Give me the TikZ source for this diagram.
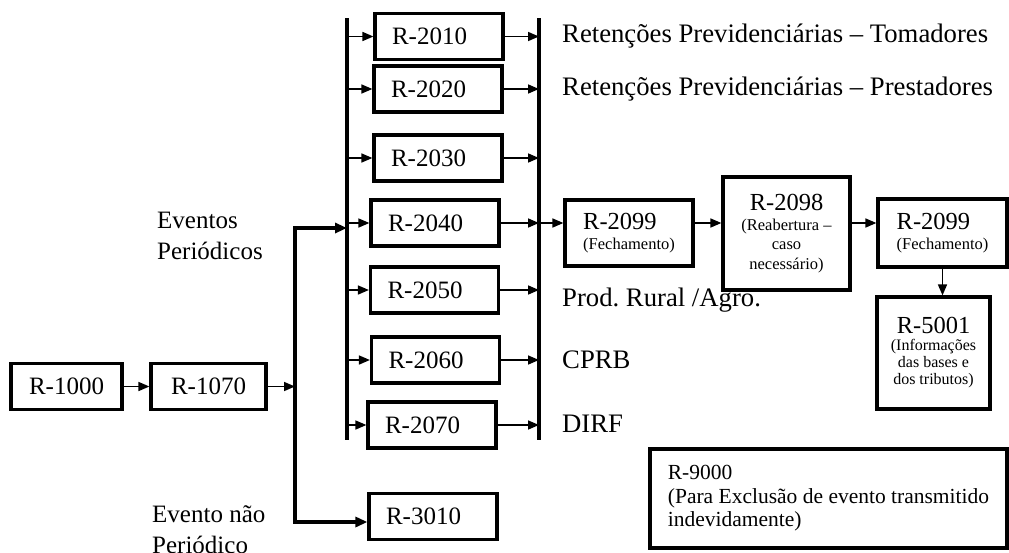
\documentclass[tikz,border=0pt]{standalone}
\usepackage{fontspec}
\setmainfont{Liberation Serif}
\usetikzlibrary{arrows.meta,calc}
\frenchspacing
\newcommand{\BoxFont}{\fontsize{25}{30}\selectfont}
\newcommand{\LblFont}{\fontsize{26.7}{32}\selectfont}
\newcommand{\HeadFont}{\fontsize{24.5}{26}\selectfont}
\newcommand{\NoteFont}{\fontsize{16.5}{19.5}\selectfont}

\begin{document}
\begin{tikzpicture}[x=1pt,y=-1pt,
  evbox/.style={draw,line width=3.2pt,minimum height=46pt,inner sep=0pt,font=\BoxFont},
  midbox/.style={evbox,text width=94pt,inner xsep=17pt,align=left},
  flowbox/.style={draw,line width=3.2pt,inner sep=0pt,align=left,font=\NoteFont},
  bus/.style={line width=3.5pt},
  arr/.style={line width=1.6pt,-{Triangle[length=11pt,width=9pt]}},
  connarr/.style={line width=3.2pt,{Triangle[length=12pt,width=10pt]}-{Triangle[length=12pt,width=10pt]}},
  lbl/.style={anchor=west,inner sep=0pt,font=\LblFont}]
\useasboundingbox (0,0) rectangle (1009,552);

\node[evbox,minimum width=111pt] (r1000) at (66.5,386.5) {R-1000};
\node[evbox,minimum width=115pt] (r1070) at (208.5,386.5) {R-1070};

\node[midbox] (r2010) at (439,36.5) {R-2010};
\node[midbox] (r2020) at (438,89) {R-2020};
\node[midbox] (r2030) at (438,158) {R-2030};
\node[midbox] (r2040) at (435,223) {R-2040};
\node[midbox] (r2050) at (434.5,290) {R-2050};
\node[midbox] (r2060) at (435.5,360) {R-2060};
\node[midbox] (r2070) at (432,425) {R-2070};
\node[midbox] (r3010) at (433,516.5) {R-3010};

\coordinate (lbtop) at (347,18);
\coordinate (lbbot) at (347,440);
\coordinate (rbtop) at (539,18);
\coordinate (rbbot) at (539,440);
\coordinate (ctop) at (295,228);
\coordinate (cbot) at (295,522);

\draw[bus] (lbtop) -- (lbbot);
\draw[bus] (rbtop) -- (rbbot);

\draw[arr] (r1000) -- (r1070);
\draw[arr] (r1070.east) -- (r1070 -| ctop);
\draw[connarr] (ctop -| lbtop) -- (ctop) -- (cbot) -- (cbot -| r3010.west);

\draw[arr] (r2010 -| lbtop) -- (r2010.west);
\draw[arr] (r2020 -| lbtop) -- (r2020.west);
\draw[arr] (r2030 -| lbtop) -- (r2030.west);
\draw[arr] (r2040 -| lbtop) -- (r2040.west);
\draw[arr] (r2050 -| lbtop) -- (r2050.west);
\draw[arr] (r2060 -| lbtop) -- (r2060.west);
\draw[arr] (r2070 -| lbtop) -- (r2070.west);

\draw[arr] (r2010.east) -- (r2010 -| rbtop);
\draw[arr] (r2020.east) -- (r2020 -| rbtop);
\draw[arr] (r2030.east) -- (r2030 -| rbtop);
\draw[arr] (r2040.east) -- (r2040 -| rbtop);
\draw[arr] (r2050.east) -- (r2050 -| rbtop);
\draw[arr] (r2060.east) -- (r2060 -| rbtop);
\draw[arr] (r2070.east) -- (r2070 -| rbtop);

\node[anchor=west,inner sep=0pt,align=left,font=\fontsize{25}{31}\selectfont] (evper) at (157,236) {Eventos\\Periódicos};
\node[anchor=west,inner sep=0pt,align=left,font=\fontsize{25}{31}\selectfont] (evnper) at (152,530) {Evento não\\Periódico};

\node[lbl] (tomad) at (562,36) {Retenções Previdenciárias – Tomadores};
\node[lbl] (prest) at (562,89) {Retenções Previdenciárias – Prestadores};
\node[lbl] (agro) at (562,300) {Prod. Rural /Agro.};
\node[lbl] (cprb) at (562,360) {CPRB};
\node[lbl] (dirf) at (562,424) {DIRF};

\node[flowbox,minimum width=128pt,minimum height=66pt] (r2099a) at (629,233) {{\HeadFont R-2099}\\(Fechamento)};
\node[flowbox,align=center,minimum width=127pt,minimum height=113pt] (r2098) at (786.5,233.5) {{\HeadFont R-2098}\\(Reabertura –\\caso\\necessário)};
\node[flowbox,minimum width=129pt,minimum height=68pt] (r2099b) at (942.5,233) {{\HeadFont R-2099}\\(Fechamento)};
\node[flowbox,align=center,minimum width=113pt,minimum height=112pt,font=\fontsize{16}{17}\selectfont] (r5001) at (933.5,353) {{\HeadFont R-5001}\\(Informações\\das bases e\\dos tributos)};
\node[flowbox,minimum width=357pt,minimum height=99pt,font=\fontsize{21.5}{23.5}\selectfont] (r9000) at (828.5,498.5) {R-9000\\(Para Exclusão de evento transmitido\\indevidamente)};

\draw[arr] (r2040 -| rbtop) -- (r2040 -| r2099a.west);
\draw[arr] (r2040 -| r2099a.east) -- (r2040 -| r2098.west);
\draw[arr] (r2040 -| r2098.east) -- (r2040 -| r2099b.west);
\draw[arr] (r2099b.south) -- (r2099b.south |- r5001.north);

\end{tikzpicture}
\end{document}
